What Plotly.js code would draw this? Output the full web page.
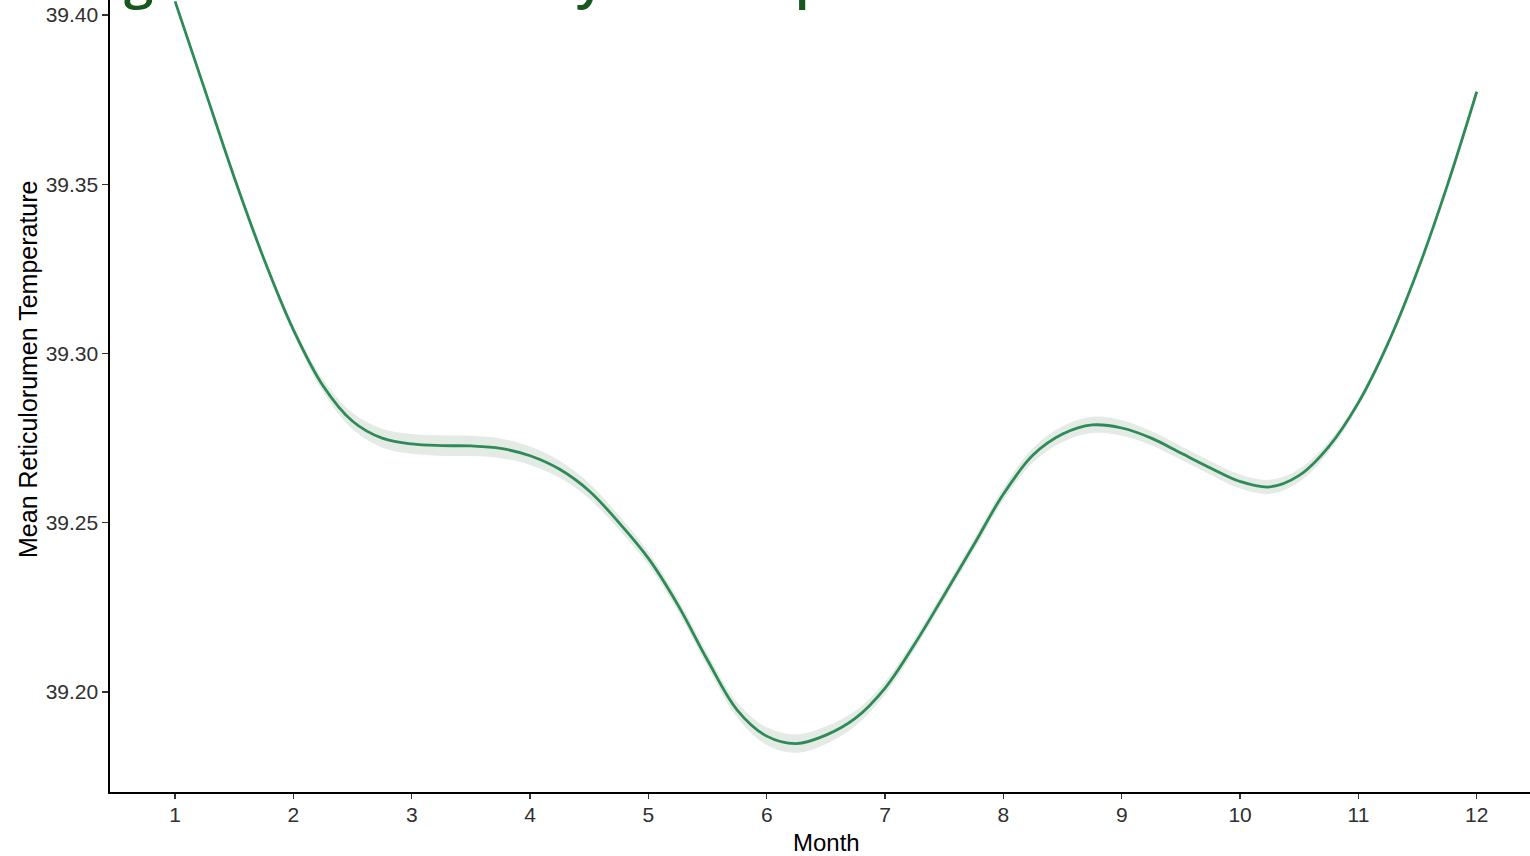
<!DOCTYPE html>
<html>
<head>
<meta charset="utf-8">
<script src="https://cdn.plot.ly/plotly-3.0.1.min.js"></script>
<style>
  html, body { margin: 0; padding: 0; background: #ffffff; }
  #chart { width: 1530px; height: 856px; }
</style>
</head>
<body>
<div id="chart"></div>
<script>
// Month positions along the fitted smooth
const months = [1, 1.25, 1.5, 1.75, 2, 2.25, 2.5, 2.75, 3, 3.25, 3.5, 3.75, 4, 4.25, 4.5, 4.75,
  5, 5.25, 5.5, 5.75, 6, 6.25, 6.5, 6.75, 7, 7.25, 7.5, 7.75, 8, 8.25, 8.5, 8.75,
  9, 9.25, 9.5, 9.75, 10, 10.25, 10.5, 10.75, 11, 11.25, 11.5, 11.75, 12];

// Fitted mean reticulorumen temperature
const meanTemp = [39.404, 39.378, 39.352, 39.328, 39.307, 39.2905, 39.2800, 39.2750, 39.2733, 39.2728, 39.2727, 39.2720, 39.2698, 39.2658, 39.2594, 39.2501,
  39.2395, 39.2257, 39.2094, 39.1947, 39.1870, 39.1848, 39.1873, 39.1923, 39.2012, 39.2142, 39.2287, 39.2435, 39.2585, 39.2700, 39.2762, 39.2789,
  39.2780, 39.2750, 39.2706, 39.2662, 39.2622, 39.2606, 39.2640, 39.2725, 39.2855, 39.3030, 39.3245, 39.3495, 39.3773];

// Half width of the confidence band
const bandHalf = [0.0005, 0.0006, 0.0007, 0.0009, 0.0012, 0.0018, 0.0024, 0.0028, 0.0029, 0.0030, 0.0030, 0.0029, 0.0027, 0.0025, 0.0023, 0.0021,
  0.0019, 0.0018, 0.0019, 0.0022, 0.0026, 0.0027, 0.0026, 0.0022, 0.0018, 0.0016, 0.0015, 0.0016, 0.0018, 0.0021, 0.0023, 0.0024,
  0.0023, 0.0021, 0.0020, 0.0020, 0.0021, 0.0021, 0.0019, 0.0015, 0.0011, 0.0008, 0.0007, 0.0006, 0.0005];

const xTickVals = [1, 2, 3, 4, 5, 6, 7, 8, 9, 10, 11, 12];
const xTickText = ["1", "2", "3", "4", "5", "6", "7", "8", "9", "10", "11", "12"];
const yTickVals = [39.20, 39.25, 39.30, 39.35, 39.40];
const yTickText = ["39.20", "39.25", "39.30", "39.35", "39.40"];

const titleText = "Figure 1. Seasonality of Temperature";
const xTitle = "Month";
const yTitle = "Mean Reticulorumen Temperature";

const lower = meanTemp.map((v, i) => v - bandHalf[i]);
const upper = meanTemp.map((v, i) => v + bandHalf[i]);

const traces = [
  {
    x: months, y: lower, type: "scatter", mode: "lines",
    line: { width: 0, shape: "spline", color: "rgba(0,0,0,0)" },
    hoverinfo: "skip", showlegend: false
  },
  {
    x: months, y: upper, type: "scatter", mode: "lines",
    line: { width: 0, shape: "spline", color: "rgba(0,0,0,0)" },
    fill: "tonexty", fillcolor: "#e4eae4",
    hoverinfo: "skip", showlegend: false
  },
  {
    x: months, y: meanTemp, type: "scatter", mode: "lines",
    line: { width: 2.8, shape: "spline", color: "#2e8b57" },
    showlegend: false
  }
];

const tickFont = { size: 21, color: "#303030", family: "Liberation Sans, Arial, sans-serif" };

const layout = {
  width: 1530, height: 856,
  margin: { l: 110, r: 0, t: 0, b: 64, pad: 0 },
  paper_bgcolor: "#ffffff", plot_bgcolor: "#ffffff",
  showlegend: false,
  font: { family: "Liberation Sans, Arial, sans-serif", color: "#000000" },
  xaxis: {
    range: [0.45, 12.45], automargin: false,
    tickmode: "array", tickvals: xTickVals, ticktext: xTickText,
    ticks: "outside", ticklen: 5, tickwidth: 1.3, tickcolor: "#333333",
    ticklabelstandoff: -2,
    showgrid: false, zeroline: false,
    showline: true, linecolor: "#000000", linewidth: 1.6,
    tickfont: tickFont
  },
  yaxis: {
    range: [39.1705, 39.4044], automargin: false,
    tickmode: "array", tickvals: yTickVals, ticktext: yTickText,
    ticks: "outside", ticklen: 6, tickwidth: 1.3, tickcolor: "#333333",
    showgrid: false, zeroline: false,
    showline: true, linecolor: "#000000", linewidth: 1.6,
    tickfont: tickFont
  },
  annotations: [
    {
      text: titleText,
      xref: "paper", yref: "paper",
      x: (79 - 110) / 1420, y: 1, xanchor: "left", yanchor: "bottom",
      yshift: -15, showarrow: false,
      font: { family: "Open Sans, sans-serif", size: 53, weight: 600, color: "#17561f" }
    },
    {
      text: xTitle,
      xref: "paper", yref: "paper",
      x: (826 - 110) / 1420, y: 0, xanchor: "center", yanchor: "middle",
      yshift: -50, showarrow: false,
      font: { size: 24, color: "#000000" }
    },
    {
      text: yTitle,
      xref: "paper", yref: "paper",
      x: (28 - 110) / 1420, y: (792 - 369) / 792, xanchor: "center", yanchor: "middle",
      textangle: -90, showarrow: false,
      font: { size: 25, color: "#000000" }
    }
  ]
};

Plotly.newPlot("chart", traces, layout, { displayModeBar: false, staticPlot: true });
</script>
</body>
</html>
